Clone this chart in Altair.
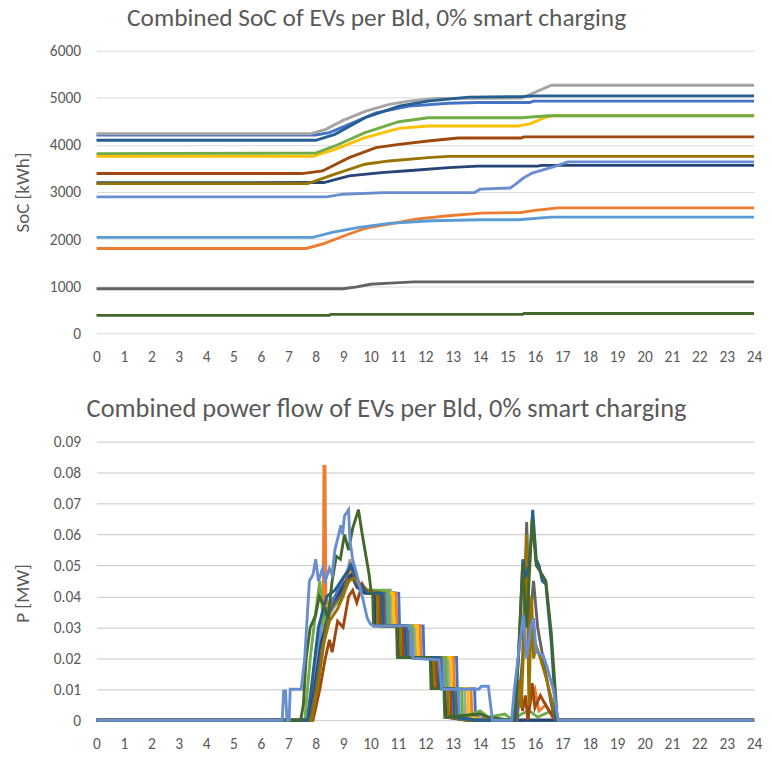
import altair as alt
import pandas as pd

# ---------------- series identities ----------------
series_names = ["Bld 01", "Bld 02", "Bld 03", "Bld 04", "Bld 05", "Bld 06", "Bld 07",
                "Bld 08", "Bld 09", "Bld 10", "Bld 11", "Bld 12", "Bld 13"]
series_colors = ["#4472C4", "#ED7D31", "#A5A5A5", "#FFC000", "#5B9BD5", "#70AD47", "#264478",
                 "#9E480E", "#636363", "#997300", "#255E91", "#43682B", "#698ED0"]

hour_ticks = list(range(25))
soc_ticks = [0, 1000, 2000, 3000, 4000, 5000, 6000]
p_ticks = [0, 0.01, 0.02, 0.03, 0.04, 0.05, 0.06, 0.07, 0.08, 0.09]

# ---------------- SoC [kWh], (hour, value) ----------------
soc_01 = [[0, 4210], [8.0, 4210], [8.5, 4260], [9.22, 4435], [10.2, 4682], [11.4, 4824], [12.85, 4885], [13.9, 4900], [15.8, 4900], [15.95, 4930], [24, 4930]]
soc_02 = [[0, 1800], [7.65, 1800], [8.25, 1895], [9.22, 2107], [9.83, 2234], [10.68, 2318], [11.65, 2424], [12.85, 2495], [14.05, 2551], [15.5, 2565], [16.0, 2610], [16.85, 2662], [24, 2662]]
soc_03 = [[0, 4235], [7.8, 4235], [8.37, 4330], [9.0, 4520], [9.83, 4718], [10.68, 4860], [11.4, 4930], [12.37, 4986], [15.52, 4995], [16.6, 5267], [24, 5267]]
soc_04 = [[0, 3755], [7.9, 3760], [8.7, 3906], [9.8, 4153], [11.04, 4350], [12.1, 4400], [15.4, 4400], [15.87, 4458], [16.35, 4577], [16.7, 4620], [24, 4620]]
soc_05 = [[0, 2036], [7.9, 2036], [8.6, 2142], [9.58, 2248], [10.68, 2332], [12.25, 2389], [14.05, 2410], [15.4, 2410], [16.6, 2466], [24, 2466]]
soc_06 = [[0, 3815], [8.0, 3825], [8.7, 3977], [9.8, 4259], [11.04, 4492], [12.1, 4577], [15.5, 4577], [16.5, 4620], [24, 4620]]
soc_07 = [[0, 3195], [8.3, 3200], [9.22, 3342], [10.4, 3412], [11.6, 3461], [12.85, 3518], [13.9, 3548], [16.1, 3548], [16.25, 3565], [24, 3565]]
soc_08 = [[0, 3391], [7.5, 3391], [8.25, 3447], [9.22, 3730], [10.2, 3941], [11.04, 4012], [12.1, 4083], [13.2, 4145], [15.5, 4145], [15.6, 4170], [24, 4170]]
soc_09 = [[0, 945], [9.0, 945], [9.5, 985], [10.0, 1040], [10.7, 1065], [11.6, 1090], [24, 1090]]
soc_10 = [[0, 3178], [7.7, 3178], [8.0, 3236], [8.7, 3377], [9.8, 3589], [10.68, 3659], [12.1, 3730], [12.85, 3755], [24, 3755]]
soc_11 = [[0, 4097], [8.0, 4097], [8.7, 4224], [9.8, 4577], [11.04, 4824], [12.1, 4930], [13.58, 5014], [15.5, 5025], [16.0, 5040], [24, 5040]]
soc_12 = [[0, 380], [8.5, 380], [8.55, 400], [15.55, 400], [15.6, 420], [24, 420]]
soc_13 = [[0, 2897], [8.4, 2897], [9.0, 2953], [10.5, 2985], [13.8, 2989], [14.0, 3060], [15.1, 3085], [15.3, 3165], [15.58, 3296], [15.9, 3401], [16.73, 3543], [17.2, 3640], [24, 3640]]

# ---------------- Power [MW], (hour, value) ----------------
p_01 = [[0, 0], [7.7, 0], [7.9, 0.012], [8.15, 0.028], [8.4, 0.036], [8.7, 0.04], [9.0, 0.045], [9.3, 0.048], [9.6, 0.044], [9.9, 0.042],
        [11.03, 0.041], [11.06, 0.0305], [11.92, 0.0305], [11.95, 0.0203], [13.14, 0.0203], [13.17, 0.0102], [13.8, 0.0102], [13.83, 0.001], [14.5, 0], [24, 0]]
p_02 = [[0, 0], [7.7, 0], [7.95, 0.015], [8.2, 0.03], [8.28, 0.04], [8.3, 0.082], [8.34, 0.082], [8.37, 0.04], [8.5, 0.035], [8.8, 0.038], [9.1, 0.043], [9.35, 0.047], [9.6, 0.044], [9.9, 0.042],
        [10.93, 0.041], [10.96, 0.0305], [11.81, 0.0305], [11.84, 0.0203], [13.03, 0.0203], [13.06, 0.0102], [13.67, 0.0102], [13.7, 0.001], [14.05, 0.0025], [14.3, 0], [15.7, 0], [15.85, 0.006], [16.0, 0.01], [16.15, 0.003], [16.4, 0.005], [16.7, 0], [24, 0]]
p_03 = [[0, 0], [7.8, 0], [8.0, 0.008], [8.3, 0.025], [8.5, 0.034], [8.7, 0.037], [9.0, 0.042], [9.25, 0.052], [9.45, 0.046], [9.7, 0.043], [10.0, 0.041],
        [10.74, 0.042], [10.77, 0.0305], [11.62, 0.0305], [11.65, 0.0203], [12.84, 0.0203], [12.87, 0.0102], [13.44, 0.0102], [13.47, 0.001], [14.3, 0], [24, 0]]
p_04 = [[0, 0], [7.75, 0], [7.95, 0.012], [8.2, 0.028], [8.5, 0.036], [8.8, 0.04], [9.05, 0.044], [9.3, 0.049], [9.5, 0.045], [9.8, 0.042],
        [10.83, 0.041], [10.86, 0.0305], [11.71, 0.0305], [11.74, 0.0203], [12.93, 0.0203], [12.96, 0.0102], [13.55, 0.0102], [13.58, 0.001], [14.3, 0], [24, 0]]
p_05 = [[0, 0], [7.75, 0], [8.0, 0.015], [8.2, 0.03], [8.5, 0.036], [8.8, 0.04], [9.1, 0.044], [9.35, 0.046], [9.6, 0.043], [9.9, 0.041],
        [10.58, 0.041], [10.61, 0.0305], [11.44, 0.0305], [11.47, 0.0203], [12.66, 0.0203], [12.69, 0.0102], [13.22, 0.0102], [13.25, 0.001], [14.0, 0], [24, 0]]
p_06 = [[0, 0], [7.6, 0], [7.8, 0.02], [8.0, 0.035], [8.15, 0.045], [8.3, 0.03], [8.5, 0.037], [8.8, 0.038], [9.1, 0.043], [9.35, 0.047], [9.6, 0.044], [9.9, 0.042],
        [10.66, 0.042], [10.69, 0.0305], [11.53, 0.0305], [11.56, 0.0203], [12.75, 0.0203], [12.78, 0.0102], [13.33, 0.0102], [13.36, 0.001], [14.0, 0.003], [14.3, 0.001], [14.9, 0.002], [15.2, 0],
        [15.5, 0.002], [15.8, 0.003], [16.1, 0.001], [16.6, 0.003], [16.9, 0], [24, 0]]
p_07 = [[0, 0], [7.75, 0], [7.95, 0.01], [8.2, 0.025], [8.5, 0.035], [8.8, 0.04], [9.1, 0.045], [9.3, 0.047], [9.5, 0.043], [9.8, 0.041],
        [10.15, 0.041], [10.18, 0.0305], [11.0, 0.0305], [11.03, 0.0203], [12.22, 0.0203], [12.25, 0.0102], [12.72, 0.0102], [12.75, 0.001], [13.5, 0], [24, 0]]
p_08 = [[0, 0], [7.9, 0], [8.15, 0.01], [8.35, 0.02], [8.5, 0.026], [8.6, 0.022], [8.8, 0.032], [9.0, 0.03], [9.2, 0.04], [9.35, 0.042], [9.5, 0.038], [9.7, 0.044], [9.9, 0.041],
        [10.33, 0.041], [10.36, 0.0305], [11.17, 0.0305], [11.2, 0.0203], [12.39, 0.0203], [12.42, 0.0102], [12.92, 0.0102], [12.95, 0.001], [13.6, 0], [15.3, 0],
        [15.45, 0.013], [15.55, 0.003], [15.65, 0.008], [15.75, 0.0], [15.9, 0.012], [16.0, 0.004], [16.2, 0.008], [16.45, 0.004], [16.75, 0], [24, 0]]
p_09 = [[0, 0], [7.8, 0], [8.0, 0.01], [8.2, 0.022], [8.5, 0.035], [8.7, 0.038], [9.0, 0.041], [9.25, 0.05], [9.5, 0.045], [9.8, 0.042],
        [10.5, 0.041], [10.53, 0.0305], [11.35, 0.0305], [11.38, 0.0203], [12.57, 0.0203], [12.6, 0.0102], [13.12, 0.0102], [13.15, 0.001], [13.9, 0], [15.35, 0],
        [15.55, 0.02], [15.7, 0.064], [15.8, 0.03], [15.95, 0.045], [16.1, 0.03], [16.3, 0.02], [16.6, 0.005], [16.75, 0], [24, 0]]
p_10 = [[0, 0], [7.85, 0], [8.1, 0.012], [8.3, 0.025], [8.5, 0.032], [8.8, 0.036], [9.0, 0.04], [9.2, 0.045], [9.4, 0.046], [9.6, 0.043], [9.9, 0.042],
        [10.24, 0.041], [10.27, 0.0305], [11.08, 0.0305], [11.11, 0.0203], [12.3, 0.0203], [12.33, 0.0102], [12.82, 0.0102], [12.85, 0.001], [13.6, 0], [15.3, 0],
        [15.42, 0.013], [15.5, 0.004], [15.62, 0.03], [15.7, 0.06], [15.78, 0.005], [15.88, 0.04], [15.95, 0.02], [16.05, 0.024], [16.2, 0.02], [16.4, 0.014], [16.6, 0.007], [16.8, 0], [24, 0]]
p_11 = [[0, 0], [7.7, 0], [7.9, 0.015], [8.1, 0.03], [8.4, 0.04], [8.7, 0.042], [9.0, 0.046], [9.3, 0.05], [9.6, 0.044], [9.9, 0.041],
        [10.42, 0.041], [10.45, 0.0305], [11.26, 0.0305], [11.29, 0.0203], [12.48, 0.0203], [12.51, 0.0102], [13.02, 0.0102], [13.05, 0.001], [13.8, 0], [15.28, 0],
        [15.45, 0.03], [15.56, 0.052], [15.65, 0.046], [15.8, 0.05], [15.92, 0.068], [16.05, 0.052], [16.15, 0.05], [16.27, 0.045], [16.4, 0.044], [16.6, 0.025], [16.78, 0], [24, 0]]
p_12 = [[0, 0], [7.45, 0], [7.55, 0.005], [7.65, 0.02], [7.8, 0.03], [8.0, 0.034], [8.13, 0.04], [8.3, 0.037], [8.45, 0.033], [8.6, 0.045], [8.75, 0.053], [8.9, 0.052], [9.05, 0.06],
        [9.2, 0.055], [9.35, 0.062], [9.56, 0.068], [9.7, 0.06], [9.95, 0.047], [10.03, 0.041],
        [10.08, 0.041], [10.11, 0.0305], [10.95, 0.0305], [10.98, 0.0203], [12.18, 0.0203], [12.21, 0.0102], [12.68, 0.0102], [12.71, 0.001], [14.0, 0.002], [14.3, 0.001], [15.2, 0],
        [15.4, 0.02], [15.55, 0.05], [15.7, 0.03], [15.9, 0.065], [16.05, 0.05], [16.2, 0.048], [16.4, 0.045], [16.6, 0.028], [16.82, 0], [24, 0]]
p_13 = [[0, 0], [6.78, 0], [6.83, 0.0095], [6.9, 0.0095], [6.95, 0], [7.03, 0], [7.07, 0.01], [7.47, 0.01], [7.6, 0.02], [7.77, 0.045], [7.9, 0.047], [8.0, 0.052],
        [8.1, 0.045], [8.25, 0.049], [8.35, 0.045], [8.5, 0.049], [8.6, 0.047], [8.7, 0.055], [8.92, 0.063], [8.98, 0.06], [9.05, 0.066], [9.2, 0.068], [9.25, 0.058],
        [9.35, 0.052], [9.5, 0.047], [9.7, 0.04], [9.88, 0.033], [10.0, 0.031], [10.1, 0.0305], [11.4, 0.0305], [11.45, 0.029], [11.55, 0.02], [12.5, 0.0195],
        [12.6, 0.01], [13.95, 0.01], [14.05, 0.011], [14.3, 0.011], [14.45, 0], [15.15, 0], [15.25, 0.01], [15.45, 0.025], [15.58, 0.034], [15.7, 0.02],
        [15.85, 0.03], [15.95, 0.033], [16.05, 0.022], [16.3, 0.021], [16.45, 0.017], [16.67, 0.01], [16.85, 0], [24, 0]]

soc_all = [soc_01, soc_02, soc_03, soc_04, soc_05, soc_06, soc_07, soc_08, soc_09, soc_10, soc_11, soc_12, soc_13]
p_all = [p_01, p_02, p_03, p_04, p_05, p_06, p_07, p_08, p_09, p_10, p_11, p_12, p_13]


def to_frame(lists):
    rows = []
    for name, pts in zip(series_names, lists):
        for i, (h, v) in enumerate(pts):
            rows.append({"s": name, "h": h, "v": v, "i": i})
    return pd.DataFrame(rows)


df_soc = to_frame(soc_all)
df_p = to_frame(p_all)

FONT = "Carlito, Lato, sans-serif"
TXT = "#595959"

color = alt.Color("s:N", scale=alt.Scale(domain=series_names, range=series_colors), legend=None)
x_enc = alt.X("h:Q", scale=alt.Scale(domain=[0, 24], nice=False, zero=False),
              axis=alt.Axis(values=hour_ticks, title=None, grid=False, domain=False, ticks=False,
                            labelPadding=16, labelFontSize=15.5, labelColor=TXT, labelFont=FONT, labelFlush=False))

top = alt.Chart(df_soc).mark_line(strokeWidth=2.9).encode(
    x=x_enc,
    y=alt.Y("v:Q", scale=alt.Scale(domain=[0, 6000], nice=False),
            axis=alt.Axis(values=soc_ticks, format="d", title="SoC [kWh]", grid=True, gridColor="#D9D9D9", domain=False, ticks=False,
                          labelPadding=16, labelFontSize=15.5, labelColor=TXT, labelFont=FONT,
                          titleFont=FONT, titleFontSize=19, titleColor=TXT, titleFontWeight="normal",
                          titleX=-74, titleY=142, titleAngle=-90, titleAlign="center", titleBaseline="middle")),
    color=color,
    order=alt.Order("i:Q"),
).properties(width=661, height=284,
             title=alt.TitleParams("Combined SoC of EVs per Bld, 0% smart charging", font=FONT, fontSize=25.5,
                                   color=TXT, fontWeight="normal", anchor="middle", dx=-49, offset=12))

bottom = alt.Chart(df_p).mark_line(strokeWidth=2.9).encode(
    x=x_enc,
    y=alt.Y("v:Q", scale=alt.Scale(domain=[0, 0.09], nice=False),
            axis=alt.Axis(values=p_ticks, format=".2~f", title="P [MW]", grid=True, gridColor="#C8C8C8", domain=False, ticks=False,
                          labelPadding=16, labelFontSize=15.5, labelColor=TXT, labelFont=FONT,
                          titleFont=FONT, titleFontSize=19, titleColor=TXT, titleFontWeight="normal",
                          titleX=-74, titleY=152, titleAngle=-90, titleAlign="center", titleBaseline="middle")),
    color=color,
    order=alt.Order("i:Q"),
).properties(width=661, height=280,
             title=alt.TitleParams("Combined power flow of EVs per Bld, 0% smart charging", font=FONT, fontSize=26.5,
                                   color=TXT, fontWeight="normal", anchor="middle", dx=-39, offset=12))

chart = alt.vconcat(top, bottom, spacing=31).properties(
    padding={"left": 14, "top": 4, "right": 10, "bottom": 5},
    background="white",
).configure_view(stroke=None)

chart.save("out.html", embed_options={"renderer": "svg", "actions": False})
